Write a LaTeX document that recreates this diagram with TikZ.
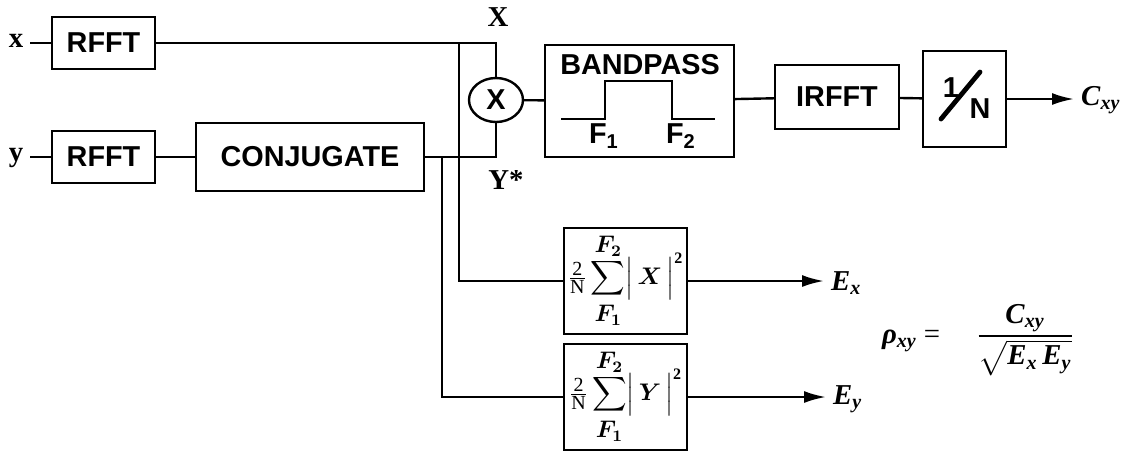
\documentclass[tikz,border=0pt]{standalone}
\usepackage{amsmath,bm}
\usepackage{fontspec}
\setmainfont{Liberation Serif}
\setsansfont{Liberation Sans}
\usetikzlibrary{positioning,arrows.meta,calc,shapes.geometric}
\newcommand{\bfit}[1]{\textbf{\textit{#1}}}
\newcommand{\esum}[1]{$\frac{\mbox{\normalsize 2}}{\mbox{\normalsize N}}\displaystyle\sum\limits_{\textstyle\bm{F_1}\rule{0pt}{10pt}}^{\textstyle\bm{F_2}\rule[-2pt]{0pt}{2pt}}\Bigl|\,\bm{#1}\,\Bigr|^{\mathbf{2}}$}

\begin{document}
\begin{tikzpicture}[x=0.5pt,y=-0.5pt,
  block/.style={draw,line width=1.2pt,inner sep=0pt,align=center,font=\Large\sffamily\bfseries},
  sumbox/.style={draw,line width=1.2pt,inner sep=0pt,minimum width=61.5pt,minimum height=53pt,font=\large},
  sig/.style={font=\Large\bfseries,text height=1ex,text depth=0pt},
  outlab/.style={anchor=west,font=\Large},
  wire/.style={line width=1.2pt},
  flow/.style={line width=1.2pt,-{Latex[length=11pt,width=6pt]}}]
\useasboundingbox (0,0) rectangle (1126,452);
% input side
\node[sig] (xin) at (16,43) {x};
\node[sig] (yin) at (16,157) {y};
\node[block,minimum width=51.5pt,minimum height=26pt] (rfftx) at (103.5,43) {RFFT};
\node[block,minimum width=51.5pt,minimum height=26pt] (rffty) at (103.5,157) {RFFT};
\node[block,minimum width=114pt,minimum height=34pt] (conj) at (310,157) {CONJUGATE};
% cross spectrum and filter
\node[block,ellipse,minimum width=27pt,minimum height=22pt] (mult) at (496,100) {X};
\node[font=\Large\bfseries] (xlab) at (498,17) {X};
\node[font=\Large\bfseries] (ylab) at (506,180) {Y*};
\node[block,minimum width=94.5pt,minimum height=56pt] (bp) at (639.5,101) {};
\node[font=\Large\sffamily\bfseries] (bptitle) at (640,65) {BANDPASS};
\node[font=\Large\sffamily\bfseries] (fone) at (604,136) {F\textsubscript{1}};
\node[font=\Large\sffamily\bfseries] (ftwo) at (681,136) {F\textsubscript{2}};
\draw[line width=1.1pt] (561,119) -| (605,81) -| (672,119) -- (715,119);
\node[block,minimum width=62pt,minimum height=32pt] (irfft) at (837,97) {IRFFT};
\node[block,minimum width=41.5pt,minimum height=48pt] (norm) at (964.5,99) {};
\node[font=\Large\sffamily\bfseries] (one) at (951,88) {1};
\node[font=\Large\sffamily\bfseries] (en) at (980,109) {N};
\draw[line width=2.4pt,line cap=round] (941,119) -- (980,72);
\node[outlab] (cxy) at (1074,100) {\bfit{C}\textsubscript{\bfit{xy}}};
% energies
\node[sumbox] (ex) at (625.5,281) {\esum{X}};
\node[sumbox] (ey) at (625.5,397) {\esum{Y}};
\node[outlab] (exlab) at (824,283) {\bfit{E}\textsubscript{\bfit{x}}};
\node[outlab] (eylab) at (826,399) {\bfit{E}\textsubscript{\bfit{y}}};
\node[font=\Large\bfseries\itshape] (rho) at (978,340) {ρ\textsubscript{xy}\upshape\mdseries{} = \quad $\dfrac{\mbox{\Large\bfit{C}\textsubscript{\bfit{xy}}}}{\sqrt{\mbox{\Large\bfit{E}\textsubscript{\bfit{x}}\,\bfit{E}\textsubscript{\bfit{y}}}}}$};
\coordinate (tapx) at (459,43);
\coordinate (tapy) at (442,157);
% wiring
\draw[wire] (xin) -- (rfftx); \draw[wire] (yin) -- (rffty); \draw[wire] (rffty) -- (conj);
\draw[wire] (rfftx.east) -| (mult.north); \draw[wire] (conj.east) -| (mult.south);
\draw[wire] (mult) -- (bp); \draw[wire] (bp) -- (irfft); \draw[wire] (irfft) -- (norm);
\draw[flow] (norm.east) -- (norm.east -| cxy.west);
\draw[wire] (tapx) |- (ex.west); \draw[wire] (tapy) |- (ey.west);
\draw[flow] (ex.east) -- (ex.east -| exlab.west); \draw[flow] (ey.east) -- (ey.east -| eylab.west);
\end{tikzpicture}
\end{document}
